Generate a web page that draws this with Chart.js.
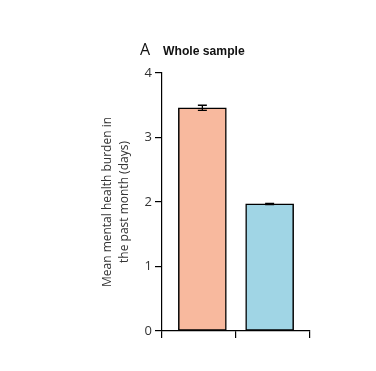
<!DOCTYPE html>
<html>
<head>
<meta charset="utf-8">
<script src="https://cdn.jsdelivr.net/npm/chart.js@4.4.0/dist/chart.umd.min.js"></script>
<style>
  html, body { margin: 0; padding: 0; background: #fff; }
  #wrap { width: 376px; height: 371px; position: relative; }
</style>
</head>
<body>
<div id="wrap"><canvas id="c" width="376" height="371"></canvas></div>
<script>
const categories = ['Group 1', 'Group 2'];
const meanValues = [3.46, 1.97];
const errorValues = [0.04, 0.01];
const barColors = ['#F8B99E', '#A0D5E5'];
const yTicks = [0, 1, 2, 3, 4];
const xBoundaries = [-0.6, 0.5, 1.6];
const panelLetter = 'A';
const panelTitle = 'Whole sample';
const yTitle = ['Mean mental health burden in', 'the past month (days)'];

const errorBarPlugin = {
  id: 'errorBars',
  afterDatasetsDraw(chart) {
    const ctx = chart.ctx;
    const meta = chart.getDatasetMeta(0);
    const y = chart.scales.y;
    ctx.save();
    ctx.strokeStyle = '#000';
    ctx.lineWidth = 1.3;
    meta.data.forEach((bar, i) => {
      const v = meanValues[i], e = errorValues[i];
      const yHi = y.getPixelForValue(v + e);
      const yLo = y.getPixelForValue(v - e);
      const x = bar.x;
      const cap = 4.5;
      ctx.beginPath();
      ctx.moveTo(x, yHi); ctx.lineTo(x, yLo);
      ctx.moveTo(x - cap, yHi); ctx.lineTo(x + cap, yHi);
      ctx.moveTo(x - cap, yLo); ctx.lineTo(x + cap, yLo);
      ctx.stroke();
    });
    ctx.restore();
  }
};

const panelTitlePlugin = {
  id: 'panelTitle',
  afterDraw(chart) {
    const ctx = chart.ctx;
    ctx.save();
    ctx.fillStyle = '#111';
    ctx.textBaseline = 'alphabetic';
    ctx.textAlign = 'left';
    ctx.font = '16px "Open Sans"';
    ctx.fillText(panelLetter, 140, 55);
    ctx.translate(163, 55);
    ctx.scale(0.9, 1);
    ctx.font = 'bold 13.5px "Liberation Sans"';
    ctx.fillText(panelTitle, 0, 0);
    ctx.restore();
  }
};

new Chart(document.getElementById('c'), {
  type: 'bar',
  data: {
    labels: categories,
    datasets: [{
      data: meanValues.map((v, i) => ({ x: i, y: v })),
      backgroundColor: barColors,
      borderColor: '#000',
      borderWidth: 1.5,
      borderSkipped: false,
      barThickness: 48
    }]
  },
  options: {
    responsive: false,
    animation: false,
    devicePixelRatio: 1,
    layout: { padding: { top: 73, right: 66, bottom: 0, left: 0 } },
    plugins: {
      legend: { display: false },
      tooltip: { enabled: false },
      title: { display: false }
    },
    scales: {
      x: {
        type: 'linear',
        offset: false,
        bounds: 'data',
        min: xBoundaries[0],
        max: xBoundaries[xBoundaries.length - 1],
        afterFit(s) { s.height = 40; },
        afterBuildTicks(s) { s.ticks = xBoundaries.map(v => ({ value: v })); },
        grid: { display: true, offset: false, drawOnChartArea: false, tickLength: 7, color: '#000', lineWidth: 1.2 },
        border: { display: true, color: '#000', width: 1.2 },
        ticks: { display: false }
      },
      y: {
        min: 0, max: 4,
        afterFit(s) { s.width = 162; },
        afterBuildTicks(s) { s.ticks = yTicks.map(v => ({ value: v })); },
        grid: { display: true, drawOnChartArea: false, tickLength: 7, color: '#000', lineWidth: 1.2 },
        border: { display: true, color: '#000', width: 1.2 },
        ticks: { color: '#333', font: { family: 'Open Sans', size: 13 }, padding: 3 },
        title: {
          display: true,
          text: yTitle,
          color: '#333',
          font: { family: 'Open Sans', size: 12, lineHeight: 1.4 },
          padding: { top: 99, bottom: 0 }
        }
      }
    }
  },
  plugins: [errorBarPlugin, panelTitlePlugin]
});
</script>
</body>
</html>
